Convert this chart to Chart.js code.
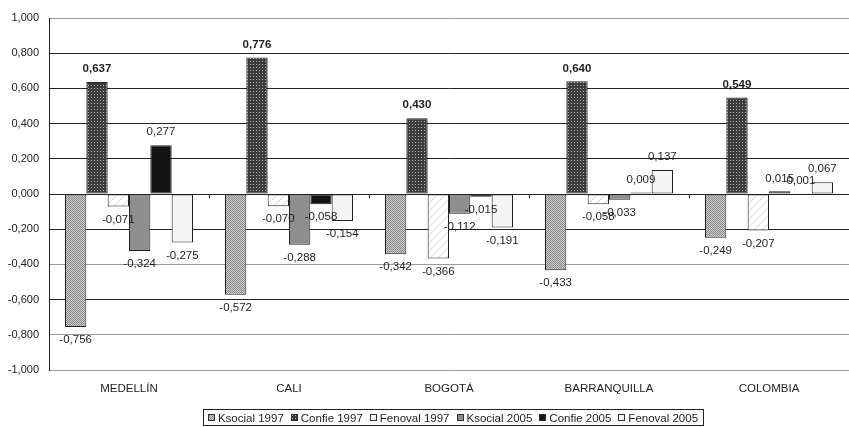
<!DOCTYPE html>
<html><head><meta charset="utf-8">
<script src="https://cdn.jsdelivr.net/npm/chart.js@4/dist/chart.umd.min.js"></script>
<style>html,body{margin:0;padding:0;background:#fff}#wrap{width:849px;height:427px}</style>
</head><body><div id="wrap"><canvas id="c" width="849" height="427"></canvas></div>
<script>
const categories = ['MEDELLÍN','CALI','BOGOTÁ','BARRANQUILLA','COLOMBIA'];
const seriesNames = ['Ksocial 1997','Confie 1997','Fenoval 1997','Ksocial 2005','Confie 2005','Fenoval 2005'];
const ksocial1997 = [-0.756,-0.572,-0.342,-0.433,-0.249];
const confie1997 = [0.637,0.776,0.430,0.640,0.549];
const fenoval1997 = [-0.071,-0.070,-0.366,-0.058,-0.207];
const ksocial2005 = [-0.324,-0.288,-0.112,-0.033,0.015];
const confie2005 = [0.277,-0.058,-0.015,0.009,0.001];
const fenoval2005 = [-0.275,-0.154,-0.191,0.137,0.067];
const yTickValues = [-1.0,-0.8,-0.6,-0.4,-0.2,0.0,0.2,0.4,0.6,0.8,1.0];

const FONT = '"Liberation Sans", Arial, sans-serif';
const mainCtx = document.getElementById('c').getContext('2d');
function makePattern(w,h,draw){
  const c=document.createElement('canvas');c.width=w;c.height=h;
  const x=c.getContext('2d');draw(x);return mainCtx.createPattern(c,'repeat');
}
const pKsocial97 = makePattern(2,2,x=>{x.fillStyle='#c8c8c8';x.fillRect(0,0,2,2);x.fillStyle='#8e8e8e';x.fillRect(0,0,1,1);x.fillRect(1,1,1,1);});
const pConfie97 = makePattern(3,3,x=>{x.fillStyle='#3c3c3c';x.fillRect(0,0,3,3);x.fillStyle='#b0b0b0';x.fillRect(1,1,1,1);});
const pFenoval97 = makePattern(8,8,x=>{x.fillStyle='#ffffff';x.fillRect(0,0,8,8);x.strokeStyle='#e2e2e2';x.lineWidth=1.2;x.beginPath();x.moveTo(0,8);x.lineTo(8,0);x.moveTo(-4,4);x.lineTo(4,-4);x.moveTo(4,12);x.lineTo(12,4);x.stroke();});
const fills = [pKsocial97, pConfie97, pFenoval97, '#8e8e8e', '#141414', '#f5f5f5'];
const seriesData = [ksocial1997, confie1997, fenoval1997, ksocial2005, confie2005, fenoval2005];

const fmt = v => (Math.round(v*1000)/1000).toFixed(3).replace('.', ',');

const labelPlugin = {
  id:'valueLabels',
  afterDatasetsDraw(chart){
    const ctx=chart.ctx;
    ctx.save();
    ctx.textAlign='center';ctx.textBaseline='middle';ctx.fillStyle='#1e1e1e';
    chart.data.datasets.forEach((ds,i)=>{
      const meta=chart.getDatasetMeta(i);
      meta.data.forEach((bar,j)=>{
        const v=ds.data[j];
        ctx.font=(i===1?'bold ':'')+'11.5px '+FONT;
        const y = v>=0 ? bar.y-13 : bar.y+13;
        ctx.fillText(fmt(v), bar.x, y);
      });
    });
    ctx.restore();
  },
  afterDraw(chart){
    const ctx=chart.ctx;
    const xs=chart.scales.x, ys=chart.scales.y;
    const y0=ys.getPixelForValue(0);
    const n=categories.length;
    ctx.save();
    ctx.strokeStyle='#222';ctx.lineWidth=1;
    ctx.beginPath();
    for(let i=1;i<n;i++){
      const x=Math.round(xs.left+i*(xs.width/n))+0.5;
      ctx.moveTo(x,y0);ctx.lineTo(x,y0+4);
    }
    ctx.stroke();
    // legend
    ctx.font='11.5px '+FONT;
    const box=7, gapBT=3, gapItem=7, padX=5;
    const widths=seriesNames.map(s=>box+gapBT+ctx.measureText(s).width);
    const total=widths.reduce((a,b)=>a+b,0)+gapItem*(seriesNames.length-1);
    const cx=453;
    let x=cx-total/2;
    const ly=418;
    ctx.strokeStyle='#222';
    ctx.strokeRect(Math.round(x-padX)+0.5, 409.5, Math.round(total+2*padX), 16);
    ctx.textAlign='left';ctx.textBaseline='middle';ctx.fillStyle='#1e1e1e';
    seriesNames.forEach((s,i)=>{
      ctx.fillStyle=fills[i];
      ctx.fillRect(Math.round(x)+0.5, ly-3.5, box-1, box-1);
      ctx.strokeStyle='#333';
      ctx.strokeRect(Math.round(x)+0.5, ly-3.5, box-1, box-1);
      ctx.fillStyle='#1e1e1e';
      ctx.fillText(s, x+box+gapBT, ly+0.5);
      x+=widths[i]+gapItem;
    });
    ctx.restore();
  }
};

const greyVals=[1,-0.4,-0.8,-1];
new Chart(document.getElementById('c'),{
  type:'bar',
  data:{
    labels:categories,
    datasets:seriesNames.map((n,i)=>({
      label:n, data:seriesData[i], backgroundColor:fills[i],
      borderColor:'#222', borderWidth:1, borderSkipped:false,
      categoryPercentage:0.8, barPercentage:1.0
    }))
  },
  options:{
    responsive:false, animation:false, devicePixelRatio:1,
    layout:{padding:{top:18,right:0,bottom:0,left:0}},
    plugins:{legend:{display:false},tooltip:{enabled:false}},
    scales:{
      x:{
        grid:{display:false,drawTicks:false},
        border:{display:false},
        ticks:{font:{family:FONT,size:11.5},color:'#222',padding:12,maxRotation:0},
        afterFit(s){s.height=57;}
      },
      y:{
        min:-1,max:1,
        afterBuildTicks(s){s.ticks=yTickValues.map(v=>({value:v}));},
        ticks:{font:{family:FONT,size:11},color:'#222',padding:10,callback:v=>fmt(v)},
        grid:{drawTicks:false,color:c=>{const v=Math.round(c.tick.value*10)/10;return greyVals.includes(v)?'#9a9a9a':'#222';},lineWidth:1},
        border:{display:true,color:'#222',width:1},
        afterFit(s){s.width=49;}
      }
    }
  },
  plugins:[labelPlugin]
});
</script></body></html>
